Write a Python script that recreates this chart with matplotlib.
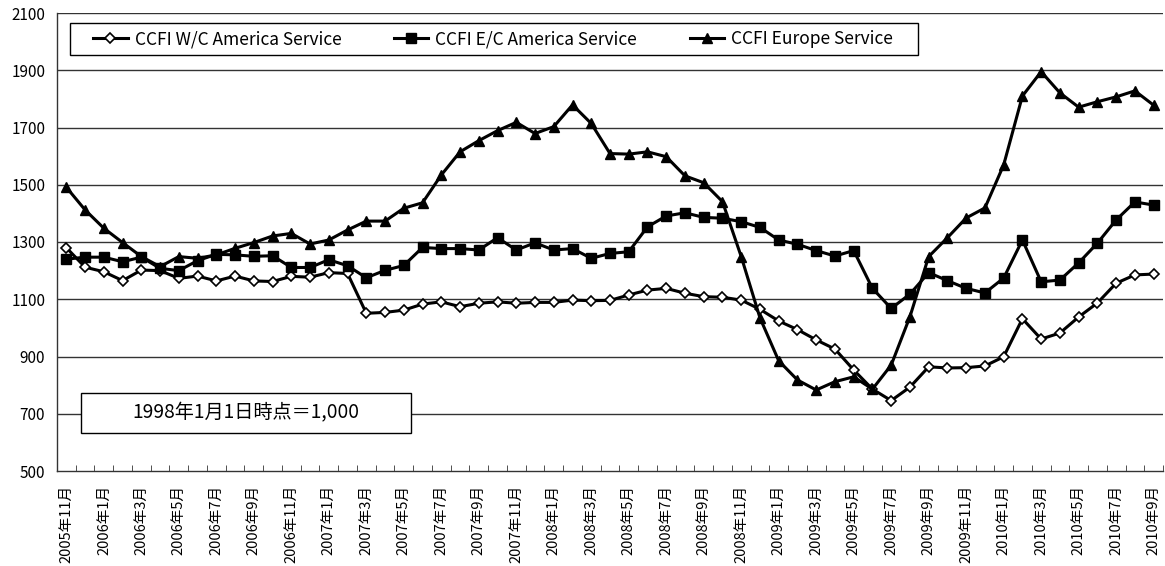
import matplotlib
matplotlib.use("Agg")
import matplotlib.pyplot as plt
from matplotlib.patches import Rectangle

plt.rcParams['font.family'] = ['Noto Sans CJK JP', 'DejaVu Sans']

# ---- data ----
start_year, start_month, n_months = 2005, 11, 59
months = []
y, m = start_year, start_month
for _ in range(n_months):
    months.append(f"{y}年{m}月")
    m += 1
    if m > 12:
        m = 1
        y += 1

wc_america = [1280, 1212, 1196, 1165, 1202, 1200, 1173, 1181, 1164, 1181,
              1164, 1162, 1180, 1177, 1193, 1190, 1051, 1054, 1062, 1083,
              1091, 1074, 1086, 1091, 1086, 1089, 1089, 1097, 1095, 1096,
              1115, 1132, 1138, 1121, 1109, 1107, 1097, 1065, 1024, 994,
              958, 926, 853, 786, 746, 793, 864, 860, 861, 867,
              899, 1032, 961, 982, 1038, 1087, 1156, 1185, 1188]

ec_america = [1240, 1247, 1247, 1231, 1247, 1208, 1200, 1235, 1257, 1255,
              1250, 1252, 1211, 1211, 1238, 1217, 1175, 1201, 1218, 1281,
              1277, 1277, 1272, 1315, 1272, 1297, 1272, 1277, 1243, 1260,
              1266, 1353, 1391, 1402, 1386, 1383, 1371, 1351, 1307, 1292,
              1270, 1251, 1270, 1138, 1068, 1118, 1193, 1165, 1138, 1122,
              1174, 1307, 1161, 1167, 1227, 1296, 1377, 1440, 1429]

europe = [1491, 1412, 1348, 1298, 1249, 1214, 1249, 1243, 1255, 1278,
          1298, 1321, 1330, 1293, 1307, 1342, 1373, 1373, 1418, 1437,
          1534, 1615, 1654, 1689, 1718, 1679, 1703, 1779, 1714, 1609,
          1607, 1615, 1598, 1531, 1507, 1441, 1249, 1035, 885, 818,
          783, 812, 829, 786, 870, 1039, 1249, 1315, 1384, 1419,
          1569, 1810, 1895, 1821, 1771, 1790, 1807, 1828, 1778]

series_labels = ["CCFI W/C America Service", "CCFI E/C America Service",
                 "CCFI Europe Service"]
y_ticks = [500, 700, 900, 1100, 1300, 1500, 1700, 1900, 2100]
note_text = "1998年1月1日時点＝1,000"

# ---- figure ----
W, H = 1165, 566
fig = plt.figure(figsize=(W / 100, H / 100), dpi=100)
ax = fig.add_axes([57 / W, 1 - 471 / H, 1106 / W, 458 / H])

x = list(range(len(months)))
ax.plot(x, wc_america, color='black', lw=2.2, marker='D', markersize=4.8,
        markerfacecolor='white', markeredgecolor='black', markeredgewidth=1.2,
        label=series_labels[0], zorder=3)
ax.plot(x, ec_america, color='black', lw=2.2, marker='s', markersize=6.5,
        markerfacecolor='black', markeredgecolor='black',
        label=series_labels[1], zorder=3)
ax.plot(x, europe, color='black', lw=2.2, marker='^', markersize=7.5,
        markerfacecolor='black', markeredgecolor='black',
        label=series_labels[2], zorder=3)

ax.set_xlim(-0.5, len(months) - 0.5)
ax.set_ylim(y_ticks[0], y_ticks[-1])
ax.set_yticks(y_ticks)
ax.set_yticklabels([str(v) for v in y_ticks], fontsize=11)
ax.tick_params(axis='y', length=0, pad=8.5)

# gridlines
for v in y_ticks[1:]:
    ax.axhline(v, color='#333333', lw=1.0, zorder=1)

# x ticks: marks at category boundaries, labels every second month
ax.set_xticks([i - 0.5 for i in range(len(months) + 1)], minor=True)
ax.set_xticks(x[::2])
ax.set_xticklabels(months[::2], rotation=90, fontsize=10.5, va='top', ha='center')
ax.tick_params(axis='x', which='major', length=0, pad=10)
ax.tick_params(axis='x', which='minor', length=4, direction='in', color='#333333')

for s in ['top', 'right']:
    ax.spines[s].set_visible(False)
ax.spines['left'].set_color('#333333')
ax.spines['bottom'].set_color('#333333')
ax.spines['left'].set_linewidth(1.0)
ax.spines['bottom'].set_linewidth(1.0)

# legend frame and legend
ax.add_patch(Rectangle((0.01175, 0.9083), 0.7667, 0.0699, transform=ax.transAxes,
                       facecolor='white', edgecolor='black', lw=1.0, zorder=4))
leg = ax.legend(loc='center', ncol=3, mode='expand',
                bbox_to_anchor=(0.0325, 0.943, 0.7235, 0.0),
                frameon=False, fontsize=12.5,
                handlelength=2.0, handletextpad=0.4, borderaxespad=0,
                borderpad=0, columnspacing=1.0)
leg.set_zorder(5)

# note box
ax.add_patch(Rectangle((0.0217, 0.083), 0.2985, 0.087, transform=ax.transAxes,
                       facecolor='white', edgecolor='black', lw=1.0, zorder=4))
ax.text(0.171, 0.1265, note_text, transform=ax.transAxes, ha='center',
        va='center', fontsize=13.8, zorder=5)

fig.savefig('out.png', dpi=100)
